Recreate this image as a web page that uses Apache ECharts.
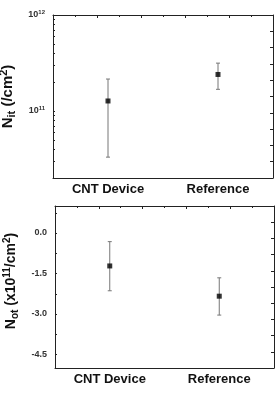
<!DOCTYPE html>
<html>
<head>
<meta charset="utf-8">
<script src="https://cdn.jsdelivr.net/npm/echarts@6/dist/echarts.min.js"></script>
<style>
  html, body { margin: 0; padding: 0; background: #fff; }
  #chart { width: 277px; height: 397px; }
</style>
</head>
<body>
<div id="chart"></div>
<script>
// categories
var categories = ["CNT Device", "Reference"];

// top panel: N_it (/cm^2), log scale
var nitMean = [1.27e11, 2.4e11];
var nitLow = [3.3e10, 1.68e11];
var nitHigh = [2.15e11, 3.15e11];
var nitLabelValues = [1e11, 1e12];
var nitTickValues = [3e10, 4e10, 5e10, 6e10, 7e10, 8e10, 9e10, 1e11,
  2e11, 3e11, 4e11, 5e11, 6e11, 7e11, 8e11, 9e11, 1e12];

// bottom panel: N_ot (x10^11/cm^2)
var notMean = [-1.22, -2.34];
var notLow = [-2.14, -3.04];
var notHigh = [-0.32, -1.66];
var notLabelValues = [0, -1.5, -3, -4.5];
var notTickValues = [0.75, 0, -0.75, -1.5, -2.25, -3, -3.75, -4.5];

var font = "Liberation Sans";

// error bar drawn with caps
function errorBar() {
  return function (params, api) {
    var i = api.value(0);
    var top = api.coord([i, api.value(2)]);
    var bot = api.coord([i, api.value(1)]);
    var w = 2;
    var st = { stroke: "#777", lineWidth: 1 };
    return {
      type: "group",
      children: [
        { type: "line", shape: { x1: top[0], y1: top[1], x2: bot[0], y2: bot[1] }, style: st },
        { type: "line", shape: { x1: top[0] - w, y1: top[1], x2: top[0] + w, y2: top[1] }, style: st },
        { type: "line", shape: { x1: bot[0] - w, y1: bot[1], x2: bot[0] + w, y2: bot[1] }, style: st }
      ]
    };
  };
}

function barData(low, high) {
  return categories.map(function (c, i) { return [i, low[i], high[i]]; });
}

var lineStyle = { color: "#222", width: 1 };

var option = {
  animation: false,
  textStyle: { fontFamily: font },
  grid: [
    { left: 53, top: 15, width: 220, height: 163, outerBoundsMode: "none", containLabel: false },
    { left: 55, top: 206, width: 219, height: 162, outerBoundsMode: "none", containLabel: false }
  ],
  xAxis: [
    {
      gridIndex: 0, type: "category", data: categories, boundaryGap: true,
      axisLine: { onZero: false, lineStyle: lineStyle },
      axisTick: { alignWithLabel: true, length: 4, lineStyle: lineStyle },
      axisLabel: { fontSize: 13, fontWeight: "bold", color: "#111", margin: 5 }
    },
    {
      gridIndex: 0, type: "value", position: "top", min: 0, max: 10, interval: 2,
      axisLine: { onZero: false, lineStyle: lineStyle },
      axisTick: { inside: true, length: 3, lineStyle: lineStyle },
      minorTick: { show: true, splitNumber: 2, length: 2, lineStyle: lineStyle },
      axisLabel: { show: false }, splitLine: { show: false }
    },
    {
      gridIndex: 1, type: "category", data: categories, boundaryGap: true,
      axisLine: { onZero: false, lineStyle: lineStyle },
      axisTick: { alignWithLabel: true, length: 4, lineStyle: lineStyle },
      axisLabel: { fontSize: 13, fontWeight: "bold", color: "#111", margin: 5 }
    },
    {
      gridIndex: 1, type: "value", position: "top", min: 0, max: 10, interval: 2,
      axisLine: { onZero: false, lineStyle: lineStyle },
      axisTick: { inside: true, length: 3, lineStyle: lineStyle },
      minorTick: { show: true, splitNumber: 2, length: 2, lineStyle: lineStyle },
      axisLabel: { show: false }, splitLine: { show: false }
    }
  ],
  yAxis: [
    {
      gridIndex: 0, type: "log", logBase: 10, min: 2e10, max: 1e12, position: "left",
      name: "{b|N}{s|it}{b| (/cm}{p|2}{b|)}",
      nameLocation: "middle", nameRotate: 90, nameGap: 32,
      nameTextStyle: {
        rich: {
          b: { fontSize: 15, fontWeight: "bold", color: "#111", fontFamily: font },
          s: { fontSize: 11, fontWeight: "bold", color: "#111", fontFamily: font, verticalAlign: "top", padding: [8, 0, 0, 0] },
          p: { fontSize: 11, fontWeight: "bold", color: "#111", fontFamily: font, verticalAlign: "bottom", padding: [0, 0, 8, 0] }
        }
      },
      axisLine: { onZero: false, lineStyle: lineStyle },
      axisTick: { inside: true, length: 2, lineStyle: lineStyle, customValues: nitTickValues },
      axisLabel: {
        customValues: nitLabelValues, margin: 8,
        formatter: function (v) {
          return "{a|10}{e|" + Math.round(Math.log10(v)) + "}";
        },
        rich: {
          a: { fontSize: 9, fontWeight: "bold", color: "#333", fontFamily: font },
          e: { fontSize: 6, fontWeight: "bold", color: "#333", fontFamily: font, verticalAlign: "bottom", padding: [0, 0, 5, 0] }
        }
      },
      splitLine: { show: false }
    },
    {
      gridIndex: 0, type: "value", position: "right", min: 0, max: 10, interval: 1,
      axisLine: { onZero: false, lineStyle: lineStyle },
      axisTick: { inside: true, length: 3, lineStyle: lineStyle },
      axisLabel: { show: false }, splitLine: { show: false }
    },
    {
      gridIndex: 1, type: "value", min: -5, max: 1, position: "left",
      name: "{b|N}{s|ot}{b| (x10}{p|11}{b|/cm}{p|2}{b|)}",
      nameLocation: "middle", nameRotate: 90, nameGap: 31,
      nameTextStyle: {
        padding: [0, 0, 0, 12],
        rich: {
          b: { fontSize: 14, fontWeight: "bold", color: "#111", fontFamily: font },
          s: { fontSize: 10, fontWeight: "bold", color: "#111", fontFamily: font, verticalAlign: "top", padding: [8, 0, 0, 0] },
          p: { fontSize: 10, fontWeight: "bold", color: "#111", fontFamily: font, verticalAlign: "bottom", padding: [0, 0, 8, 0] }
        }
      },
      axisLine: { onZero: false, lineStyle: lineStyle },
      axisTick: { inside: true, length: 2, lineStyle: lineStyle, customValues: notTickValues },
      axisLabel: {
        customValues: notLabelValues, margin: 8, fontSize: 9, fontWeight: "bold", color: "#333",
        formatter: function (v) { return v.toFixed(1); }
      },
      splitLine: { show: false }
    },
    {
      gridIndex: 1, type: "value", position: "right", min: 0, max: 10, interval: 1,
      axisLine: { onZero: false, lineStyle: lineStyle },
      axisTick: { inside: true, length: 3, lineStyle: lineStyle },
      axisLabel: { show: false }, splitLine: { show: false }
    }
  ],
  series: [
    {
      type: "custom", xAxisIndex: 0, yAxisIndex: 0,
      renderItem: errorBar(), data: barData(nitLow, nitHigh), z: 2
    },
    {
      type: "scatter", xAxisIndex: 0, yAxisIndex: 0, symbol: "rect", symbolSize: 5,
      itemStyle: { color: "#000" }, data: nitMean, z: 3
    },
    {
      type: "custom", xAxisIndex: 2, yAxisIndex: 2,
      renderItem: errorBar(), data: barData(notLow, notHigh), z: 2
    },
    {
      type: "scatter", xAxisIndex: 2, yAxisIndex: 2, symbol: "rect", symbolSize: 5,
      itemStyle: { color: "#000" }, data: notMean, z: 3
    }
  ]
};

var chart = echarts.init(document.getElementById("chart"));
chart.setOption(option);
</script>
</body>
</html>
